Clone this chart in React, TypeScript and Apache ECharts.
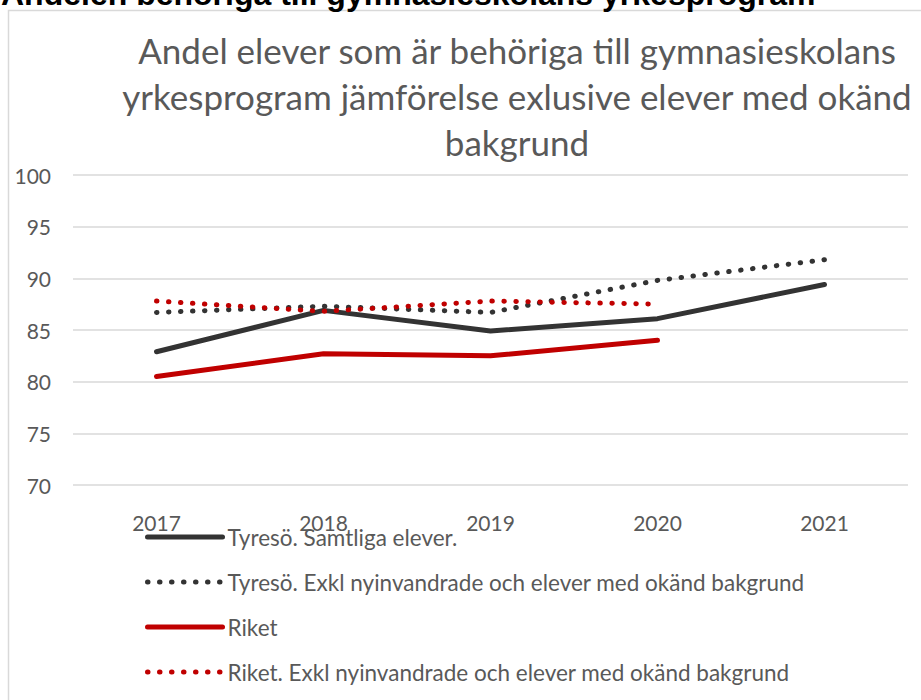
import React, { useEffect, useRef } from "react";
import * as echarts from "echarts";

const years = ["2017", "2018", "2019", "2020", "2021"];
const tyresoAll = [82.9, 86.9, 84.9, 86.1, 89.4];
const tyresoExkl = [86.7, 87.3, 86.7, 89.8, 91.8];
const riket = [80.5, 82.7, 82.5, 84.0, null];
const riketExkl = [87.8, 86.8, 87.8, 87.5, null];

const seriesNames = [
  "Tyresö. Samtliga elever.",
  "Tyresö. Exkl nyinvandrade och elever med okänd bakgrund",
  "Riket",
  "Riket. Exkl nyinvandrade och elever med okänd bakgrund",
];

const pageHeading = "Andelen behöriga till gymnasieskolans yrkesprogram";
const chartTitle =
  "Andel elever som är behöriga till gymnasieskolans\nyrkesprogram jämförelse exlusive elever med okänd\nbakgrund";

const DARK = "#333333";
const RED = "#c00000";
const TEXT = "#595959";
const FONT = "Lato";

export default function App() {
  const ref = useRef<HTMLDivElement>(null);
  useEffect(() => {
    if (!ref.current) return;
    const chart = echarts.init(ref.current, undefined, { renderer: "svg" });
    const dotted = [0.5, 11.5];
    const mk = (name: string, data: (number | null)[], color: string, dots: boolean) => ({
      name,
      type: "line",
      data,
      symbol: "none",
      showSymbol: false,
      connectNulls: false,
      lineStyle: {
        color,
        width: 5,
        type: dots ? dotted : "solid",
        cap: "round",
        join: "round",
      },
      itemStyle: { color },
    });
    chart.setOption({
      animation: false,
      backgroundColor: "#ffffff",
      title: {
        text: chartTitle,
        left: 517,
        top: 27,
        padding: 0,
        textAlign: "center",
        textStyle: {
          fontFamily: FONT,
          fontSize: 35,
          fontWeight: "normal",
          color: TEXT,
          lineHeight: 46,
        },
      },
      graphic: [
        {
          type: "rect",
          z: -10,
          silent: true,
          shape: { x: 8.5, y: 10.5, width: 1000, height: 1000 },
          style: { fill: "none", stroke: "#d9d9d9", lineWidth: 1.5 },
        },
        {
          type: "text",
          x: 1,
          y: -6.5,
          silent: true,
          style: {
            text: pageHeading,
            font: "bold 32px 'Liberation Sans', Arial, sans-serif",
            fill: "#000000",
            verticalAlign: "middle",
            align: "left",
          },
        },
      ],
      legend: {
        orient: "vertical",
        left: 145,
        top: 525,
        padding: 0,
        itemWidth: 75,
        itemHeight: 14,
        itemGap: 21,
        itemStyle: { opacity: 0 },
        lineStyle: { width: 5, cap: "round" },
        textStyle: { fontFamily: FONT, fontSize: 22.5, color: TEXT, lineHeight: 24 },
        data: seriesNames,
      },
      grid: { left: 73, right: 13, top: 175, bottom: 215, containLabel: false },
      xAxis: {
        type: "category",
        data: years,
        boundaryGap: true,
        axisLine: { show: false },
        axisTick: { show: false },
        axisLabel: { fontFamily: FONT, fontSize: 21, color: TEXT, margin: 27 },
      },
      yAxis: {
        type: "value",
        min: 70,
        max: 100,
        interval: 5,
        axisLine: { show: false },
        axisTick: { show: false },
        axisLabel: { fontFamily: FONT, fontSize: 21, color: TEXT, margin: 22 },
        splitLine: { lineStyle: { color: "#d9d9d9", width: 1.5 } },
      },
      series: [
        mk(seriesNames[0], tyresoAll, DARK, false),
        mk(seriesNames[1], tyresoExkl, DARK, true),
        mk(seriesNames[2], riket, RED, false),
        mk(seriesNames[3], riketExkl, RED, true),
      ],
    });
    return () => chart.dispose();
  }, []);
  return (
    <div
      ref={ref}
      style={{ position: "absolute", left: 0, top: 0, width: 921, height: 700 }}
    />
  );
}
